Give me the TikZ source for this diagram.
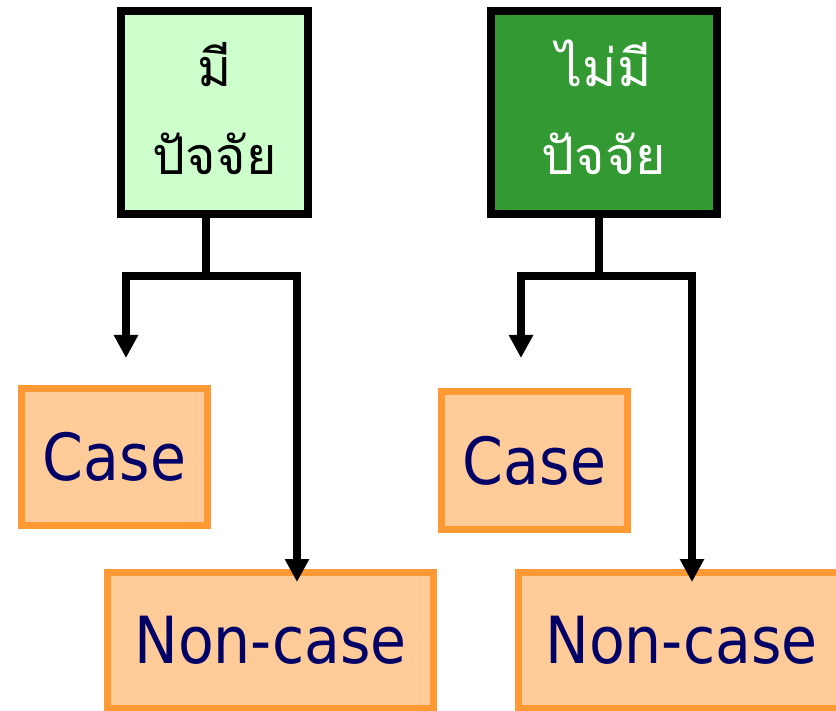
\documentclass[tikz,border=0pt]{standalone}
\usepackage{fontspec}
\newfontfamily\thaifont[Script=Thai]{Loma}
\newfontfamily\latinfont{DejaVu Sans Condensed}
\usetikzlibrary{arrows.meta}

\definecolor{ccffcc}{rgb}{0.8,1.0,0.8}
\definecolor{dgreen}{rgb}{0.2,0.6,0.2}
\definecolor{orline}{rgb}{1.0,0.6,0.2}
\definecolor{orfill}{rgb}{1.0,0.8,0.6}
\definecolor{navy}{rgb}{0.0,0.0,0.4}

% two lines of Thai, lifted a little
\newcommand{\twoline}[2]{\raisebox{6pt}{\begin{tabular}{@{}c@{}}#1\\#2\end{tabular}}}

\begin{document}
\begin{tikzpicture}[x=1pt,y=-1pt,line join=miter,
  factor/.style={draw=black,line width=8pt,inner sep=0pt,
    minimum height=203pt,font=\thaifont\fontsize{52}{88}\selectfont},
  outcome/.style={draw=orline,fill=orfill,line width=7pt,inner sep=0pt,
    text=navy,font=\latinfont\fontsize{65}{70}\selectfont},
  link/.style={draw=black,line width=8pt},
  arr/.style={link,-{Triangle[width=23pt,length=23pt]}}]
  \useasboundingbox (0,0) rectangle (836,711);
  \clip (0,0) rectangle (836,711);
  % exposure boxes
  \node[factor,fill=ccffcc,minimum width=187pt] (have) at (214.5,112.5) {\twoline{มี}{ปัจจัย}};
  \node[factor,fill=dgreen,text=white,minimum width=226pt] (nohave) at (604,112.5) {\twoline{ไม่มี}{ปัจจัย}};
  % outcome boxes
  \node[outcome,minimum width=186pt,minimum height=137pt] (haveCase) at (114.5,457) {Case};
  \node[outcome,minimum width=326pt,minimum height=136pt] (haveNon) at (270.5,640) {Non-case};
  \node[outcome,minimum width=186pt,minimum height=138pt] (nohaveCase) at (534.5,460.5) {Case};
  \node[outcome,minimum width=326pt,minimum height=136pt] (nohaveNon) at (681.5,640) {Non-case};
  % arrow ends
  \coordinate (haveCaseTip) at (126,358);
  \coordinate (haveNonTip) at (297,582);
  \coordinate (nohaveCaseTip) at (521,358);
  \coordinate (nohaveNonTip) at (692,582);
  % branches
  \draw[link] ([xshift=-8.5pt]have.south) -- ++(0,58) coordinate (haveSplit);
  \draw[arr] (haveSplit) -| (haveCaseTip);
  \draw[arr] (haveSplit) -| (haveNonTip);
  \draw[link] ([xshift=-5pt]nohave.south) -- ++(0,58) coordinate (nohaveSplit);
  \draw[arr] (nohaveSplit) -| (nohaveCaseTip);
  \draw[arr] (nohaveSplit) -| (nohaveNonTip);
\end{tikzpicture}
\end{document}
